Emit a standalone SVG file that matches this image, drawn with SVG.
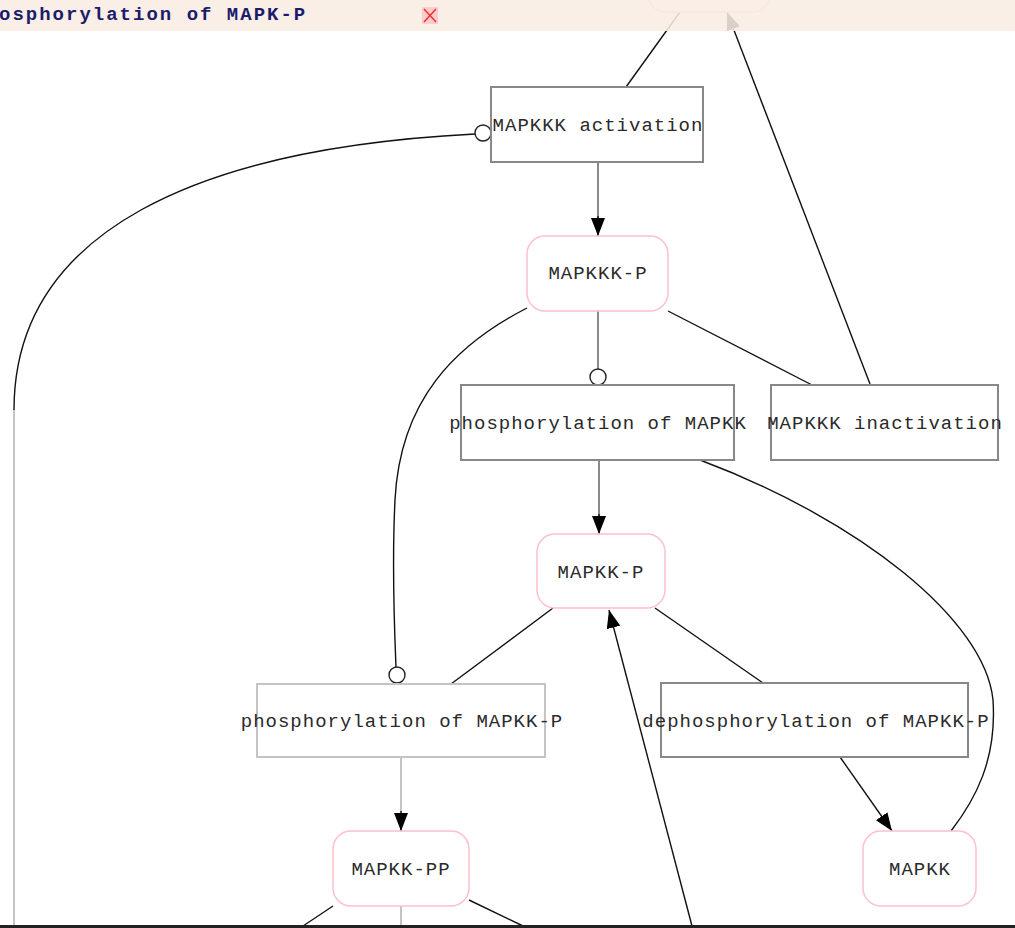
<svg xmlns="http://www.w3.org/2000/svg" width="1015" height="928" viewBox="0 0 1015 928">
  <style>
    .proc rect { fill: #fff; stroke: #888; stroke-width: 2; }
    .proc.light rect { stroke: #c4c4c4; }
    .species rect { fill: #fff; stroke: #ffc0cb; stroke-width: 1.5; }
    .lbl { font-family: "Liberation Mono", "Courier New", monospace; font-size: 19px; letter-spacing: 1px; fill: #2a2a2a; text-anchor: middle; }
    .edge { fill: none; stroke: #111; stroke-width: 1.4; }
    .edge.gray { stroke: #8a8a8a; stroke-width: 2; }
    .edge.pale { stroke: #c4c4c4; stroke-width: 2; }
    .mod { fill: #fff; stroke: #222; stroke-width: 1.4; }
    .banner-text { font-family: "Liberation Mono", "Courier New", monospace; font-weight: bold; font-size: 19px; letter-spacing: 2px; fill: #1c1c6b; }
  </style>
  <defs>
    <marker id="arrow" viewBox="0 0 18 14" refX="18" refY="7" markerWidth="18" markerHeight="14" markerUnits="userSpaceOnUse" orient="auto">
      <path d="M0,0 L18,7 L0,14 Z" fill="#000"/>
    </marker>
  </defs>

  <rect width="1015" height="928" fill="#fff"/>

  <!-- connectors -->
  <g id="connectors">
    <path class="edge" d="M626,87 L680,12"/>
    <path class="edge gray" d="M598,162 L598,218"/>
    <path class="edge" d="M598,216 L598,236" marker-end="url(#arrow)"/>
    <path class="edge" d="M870,384 L727,12" marker-end="url(#arrow)"/>
    <path class="edge" d="M668,311 L812,385"/>
    <path class="edge gray" d="M598,311 L598,369"/>
    <circle class="mod" cx="598" cy="377" r="8"/>
    <path class="edge" d="M527,308 C455,345 400,400 395,500 C392,560 394,620 396,667"/>
    <circle class="mod" cx="397" cy="675" r="8"/>
    <path class="edge" d="M14,410 C14,230 200,148 475,134"/>
    <path class="edge pale" d="M14,410 L14,926"/>
    <circle class="mod" cx="483" cy="133" r="8"/>
    <path class="edge gray" d="M599,460 L599,516"/>
    <path class="edge" d="M599,514 L599,534" marker-end="url(#arrow)"/>
    <path class="edge" d="M700,460 C860,520 985,620 993,700 C997,760 975,800 951,831"/>
    <path class="edge" d="M553,608 L451,684"/>
    <path class="edge" d="M655,608 L763,683"/>
    <path class="edge" d="M692,926 L609,610" marker-end="url(#arrow)"/>
    <path class="edge pale" d="M401,757 L401,813"/>
    <path class="edge" d="M401,811 L401,831" marker-end="url(#arrow)"/>
    <path class="edge" d="M840,757 L892,831" marker-end="url(#arrow)"/>
    <path class="edge" d="M333,906 L303,926"/>
    <path class="edge pale" d="M401,906 L401,926"/>
    <path class="edge" d="M469,900 L523,926"/>
  </g>

  <!-- species and reactions -->
  <g id="node-mapkkk" class="species">
    <rect x="648" y="-60" width="122" height="72" rx="18"/>
  </g>
  <g id="node-mapkkk-activation" class="proc">
    <rect x="491" y="87" width="212" height="75"/>
    <text class="lbl" x="598" y="131">MAPKKK activation</text>
  </g>
  <g id="node-mapkkk-p" class="species">
    <rect x="527" y="236" width="141" height="75" rx="18"/>
    <text class="lbl" x="598" y="279">MAPKKK-P</text>
  </g>
  <g id="node-phos-mapkk" class="proc">
    <rect x="461" y="385" width="273" height="75"/>
    <text class="lbl" x="598" y="429">phosphorylation of MAPKK</text>
  </g>
  <g id="node-mapkkk-inactivation" class="proc">
    <rect x="771" y="385" width="227" height="75"/>
    <text class="lbl" x="885" y="429">MAPKKK inactivation</text>
  </g>
  <g id="node-mapkk-p" class="species">
    <rect x="537" y="534" width="128" height="74" rx="18"/>
    <text class="lbl" x="601" y="578">MAPKK-P</text>
  </g>
  <g id="node-phos-mapkk-p" class="proc light">
    <rect x="257" y="684" width="288" height="73"/>
    <text class="lbl" x="402" y="727">phosphorylation of MAPKK-P</text>
  </g>
  <g id="node-dephos-mapkk-p" class="proc">
    <rect x="661" y="683" width="307" height="74"/>
    <text class="lbl" x="816" y="727">dephosphorylation of MAPKK-P</text>
  </g>
  <g id="node-mapkk-pp" class="species">
    <rect x="333" y="831" width="136" height="75" rx="18"/>
    <text class="lbl" x="401" y="875">MAPKK-PP</text>
  </g>
  <g id="node-mapkk" class="species">
    <rect x="863" y="831" width="113" height="75" rx="18"/>
    <text class="lbl" x="920" y="875">MAPKK</text>
  </g>

  <!-- translucent title banner over the top edge -->
  <g id="banner">
    <rect x="0" y="0" width="1015" height="31" fill="#f8ede3" fill-opacity="0.88"/>
    <text class="banner-text" x="-1" y="20">osphorylation of MAPK-P</text>
    <rect x="422" y="7" width="16" height="17" fill="#ffcccc"/>
    <path d="M424,9 L436,22 M436,9 L424,22" stroke="#f03030" stroke-width="1.5"/>
  </g>

  <!-- bottom rule -->
  <rect x="0" y="925" width="1015" height="3" fill="#222"/>
</svg>
